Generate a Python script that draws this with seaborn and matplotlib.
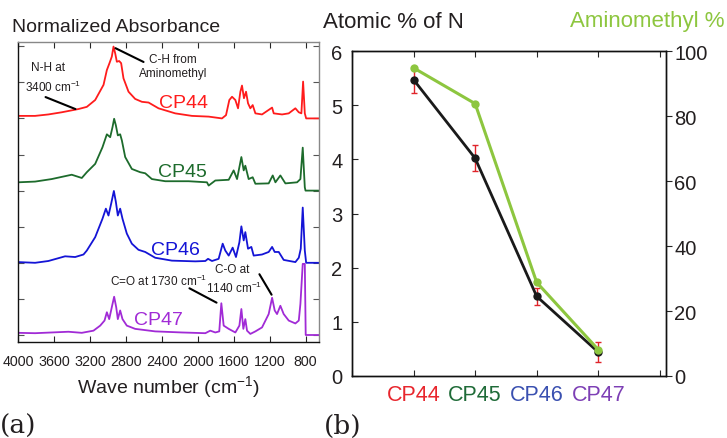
import numpy as np
import pandas as pd
import matplotlib
matplotlib.use("Agg")
import matplotlib.pyplot as plt
import seaborn as sns

# ---------------- data: FTIR spectra (relative absorbance) -------------
samples = ["CP44", "CP45", "CP46", "CP47"]

wn_cp44 = [4000, 3810, 3662, 3513, 3327, 3234, 3141, 3048, 3011, 2982, 2956, 2937, 2918, 2900,
           2874, 2852, 2826, 2770, 2696, 2621, 2547, 2436, 2250, 2064, 1878, 1730, 1685, 1648,
           1618, 1581, 1551, 1525, 1507, 1485, 1462, 1440, 1414, 1388, 1358, 1284, 1172, 1154,
           1061, 987, 913, 875, 846, 827, 808, 793, 650]
ab_cp44 = [0.07, 0.07, 0.11, 0.17, 0.26, 0.32, 0.51, 0.93, 1.34, 1.53, 1.71, 1.99, 1.80, 1.57,
           1.59, 1.53, 1.11, 0.74, 0.54, 0.46, 0.44, 0.28, 0.14, 0.07, 0.05, 0.00, 0.09, 0.51,
           0.60, 0.51, 0.28, 0.74, 0.91, 0.56, 0.74, 0.42, 0.28, 0.37, 0.14, 0.11, 0.30, 0.14,
           0.11, 0.14, 0.28, 0.17, 0.14, 1.02, 0.14, 0.00, 0.00]

wn_cp45 = [4000, 3810, 3625, 3402, 3290, 3234, 3141, 3060, 3011, 2974, 2948, 2930, 2911, 2889,
           2863, 2844, 2807, 2733, 2640, 2584, 2510, 2361, 2101, 1897, 1878, 1804, 1655, 1600,
           1562, 1514, 1488, 1470, 1433, 1388, 1358, 1210, 1165, 1135, 1080, 1024, 894, 857,
           831, 808, 800, 650]
ab_cp45 = [0.23, 0.25, 0.32, 0.44, 0.35, 0.51, 0.74, 1.20, 1.56, 1.48, 1.76, 1.99, 1.81, 1.53,
           1.56, 1.39, 0.93, 0.60, 0.51, 0.48, 0.32, 0.26, 0.26, 0.23, 0.14, 0.28, 0.30, 0.56,
           0.32, 0.93, 0.56, 0.69, 0.32, 0.37, 0.19, 0.20, 0.42, 0.23, 0.42, 0.20, 0.23, 0.32,
           1.19, 0.09, 0.00, 0.00]

wn_cp46 = [4000, 3810, 3662, 3476, 3364, 3271, 3234, 3141, 3060, 3022, 2993, 2963, 2933, 2911,
           2889, 2863, 2837, 2789, 2733, 2659, 2584, 2473, 2287, 2027, 1915, 1885, 1841, 1767,
           1722, 1693, 1655, 1611, 1574, 1536, 1514, 1488, 1470, 1440, 1403, 1377, 1284, 1210,
           1172, 1143, 1098, 1043, 913, 875, 853, 831, 808, 793, 650]
ab_cp46 = [0.02, 0.00, 0.05, 0.18, 0.16, 0.23, 0.34, 0.71, 1.22, 1.50, 1.31, 1.64, 1.99, 1.69,
           1.31, 1.50, 1.22, 0.81, 0.53, 0.36, 0.30, 0.14, 0.06, 0.04, 0.05, 0.11, 0.05, 0.11,
           0.53, 0.34, 0.20, 0.42, 0.16, 0.57, 1.01, 0.62, 0.85, 0.39, 0.44, 0.20, 0.23, 0.30,
           0.44, 0.30, 0.30, 0.08, 0.02, 0.14, 0.39, 1.53, 0.34, 0.00, 0.00]

wn_cp47 = [4000, 3810, 3625, 3439, 3290, 3160, 3085, 3037, 3011, 2985, 2956, 2930, 2907, 2889,
           2863, 2837, 2789, 2696, 2473, 2176, 1915, 1860, 1804, 1760, 1737, 1711, 1655, 1581,
           1536, 1514, 1492, 1470, 1451, 1414, 1358, 1284, 1210, 1172, 1143, 1117, 1080, 1043,
           987, 913, 875, 857, 831, 808, 798, 650]
ab_cp47 = [0.06, 0.05, 0.07, 0.09, 0.06, 0.12, 0.26, 0.40, 0.63, 0.44, 0.77, 1.06, 0.77, 0.44,
           0.68, 0.44, 0.26, 0.17, 0.10, 0.07, 0.05, 0.12, 0.07, 0.10, 0.88, 0.26, 0.17, 0.07,
           0.26, 0.72, 0.17, 0.44, 0.12, 0.03, 0.10, 0.21, 0.58, 1.03, 0.68, 0.58, 0.81, 0.58,
           0.40, 0.32, 0.40, 0.86, 1.97, 1.97, 0.00, 0.00]

offsets = [6, 4, 2, 0]
wn_ticks = [4000, 3600, 3200, 2800, 2400, 2000, 1600, 1200, 800]

# ---------------- data: composition panel ----------------
atomic_n = [5.47, 4.02, 1.47, 0.44]
atomic_n_err = [0.24, 0.24, 0.15, 0.19]
aminomethyl = [94.8, 83.8, 28.8, 8.1]
n_ticks = [0, 1, 2, 3, 4, 5, 6]
amino_ticks = [0, 20, 40, 60, 80, 100]

# ---------------- styling ----------------
spec_colors = {"CP44": "#ff1c1c", "CP45": "#1d6b2c", "CP46": "#1414d6", "CP47": "#a12bd6"}
label_colors = {"CP44": "#e8262d", "CP45": "#1f6b38", "CP46": "#3a50b0", "CP47": "#7d3fb5"}
txt = "#231f20"

sns.set_style("ticks")
plt.rcParams['font.family'] = ['Liberation Sans', 'DejaVu Sans']
plt.rcParams['mathtext.fontset'] = 'custom'
plt.rcParams['mathtext.rm'] = 'Liberation Sans'
plt.rcParams['mathtext.it'] = 'Liberation Sans:italic'
plt.rcParams['mathtext.bf'] = 'Liberation Sans:bold'

fig = plt.figure(figsize=(7.27, 4.39), dpi=100)
W, H = 727.0, 439.0

# ================= panel (a) =================
axL = fig.add_axes([18 / W, 1 - 343 / H, 301 / W, 300 / H])
rows = []
for name, wn, ab, off in zip(samples, [wn_cp44, wn_cp45, wn_cp46, wn_cp47],
                             [ab_cp44, ab_cp45, ab_cp46, ab_cp47], offsets):
    for w, a in zip(wn, ab):
        rows.append((name, w, a + off))
df = pd.DataFrame(rows, columns=["sample", "wn", "absorbance"])
sns.lineplot(data=df, x="wn", y="absorbance", hue="sample", palette=spec_colors,
             estimator=None, legend=False, lw=1.3, ax=axL)
axL.set_xlim(4000, 650)
axL.set_ylim(-0.194, 8.117)
axL.set_xticks(wn_ticks)
axL.set_xticklabels([str(t) for t in wn_ticks], fontsize=10.3, color=txt)
axL.set_yticks(range(0, 9))
axL.tick_params(direction='in', length=4, width=0.8, top=True, right=True,
                labelleft=False, pad=9)
axL.tick_params(axis='y', which='both', right=True, colors='#555555')
axL.set_xlabel("Wave number (cm$^{-1}$)", fontsize=14, color=txt, labelpad=3)
axL.set_ylabel("")
for s in ["left", "bottom"]:
    axL.spines[s].set_color("#111111")
    axL.spines[s].set_linewidth(1.0)
for s in ["top", "right"]:
    axL.spines[s].set_color("#888888")
    axL.spines[s].set_linewidth(1.0)

# sample names
cp_pos = {"CP44": (2163, 6.45), "CP45": (2175, 4.54), "CP46": (2253, 2.38), "CP47": (2442, 0.44)}
for name in samples:
    x, y = cp_pos[name]
    axL.text(x, y, name, color=spec_colors[name], fontsize=14, ha='center', va='center')

ann_fs = 8.5
axL.text(3666, 7.42, "N-H at", fontsize=ann_fs, ha='center', va='center', color=txt)
axL.text(3610, 6.90, "3400 cm$^{-1}$", fontsize=ann_fs, ha='center', va='center', color=txt)
axL.annotate("", xy=(3332, 6.23), xytext=(3722, 6.62),
             arrowprops=dict(arrowstyle='-', lw=1.5, color='black'))
axL.text(2275, 7.46, "C-H from\nAminomethyl", fontsize=ann_fs, ha='center', va='center',
         color=txt, linespacing=1.25)
axL.annotate("", xy=(2943, 7.98), xytext=(2575, 7.53),
             arrowprops=dict(arrowstyle='-', lw=1.5, color='black'))
axL.text(2431, 1.50, "C=O at 1730 cm$^{-1}$", fontsize=ann_fs, ha='center', va='center', color=txt)
axL.annotate("", xy=(1763, 0.86), xytext=(2119, 1.33),
             arrowprops=dict(arrowstyle='-', lw=1.5, color='black'))
axL.text(1618, 1.83, "C-O at", fontsize=ann_fs, ha='center', va='center', color=txt)
axL.text(1596, 1.33, "1140 cm$^{-1}$", fontsize=ann_fs, ha='center', va='center', color=txt)
axL.annotate("", xy=(1162, 1.05), xytext=(1329, 1.75),
             arrowprops=dict(arrowstyle='-', lw=1.5, color='black'))

fig.text(12 / W, 1 - 27 / H, "Normalized Absorbance", fontsize=14, color=txt,
         ha='left', va='center')

# ================= panel (b) =================
axR = fig.add_axes([352 / W, 1 - 377 / H, 314 / W, 325 / H])
dfR = pd.DataFrame({"pos": [1, 2, 3, 4], "sample": samples, "N": atomic_n,
                    "err": atomic_n_err, "amino": aminomethyl})
axR.errorbar(dfR["pos"], dfR["N"], yerr=dfR["err"], fmt='none', ecolor='#e0242a',
             elinewidth=1.0, capsize=2.5, capthick=1.0, zorder=1)
sns.lineplot(data=dfR, x="pos", y="N", color="#1a1a1a", lw=2.0, marker='o',
             markersize=6, markeredgewidth=0, ax=axR, zorder=2)
axR.set_xlim(0, 5.1)
axR.set_ylim(0, 6)
axR.set_xticks([0, 1, 2, 3, 4, 5])
axR.set_xticklabels([""] + samples + [""], fontsize=15.5)
for lab, name in zip(axR.get_xticklabels()[1:5], samples):
    lab.set_color(label_colors[name])
axR.set_yticks(n_ticks)
axR.set_yticklabels([str(t) for t in n_ticks], fontsize=14.5, color=txt)
axR.tick_params(axis='x', direction='in', length=4, width=0.8, top=True, pad=6)
axR.tick_params(axis='y', direction='in', length=4, width=0.8, right=False, pad=7)
axR.set_xlabel("")
axR.set_ylabel("")
for s in axR.spines.values():
    s.set_color("#111111")
    s.set_linewidth(1.0)

axR2 = axR.twinx()
sns.lineplot(data=dfR, x="pos", y="amino", color="#8dc63f", lw=2.2, marker='o',
             markersize=6, markeredgewidth=0, ax=axR2)
axR2.set_ylim(0, 100)
axR2.set_yticks(amino_ticks)
axR2.set_yticklabels([str(t) for t in amino_ticks], fontsize=14.5, color=txt)
axR2.tick_params(axis='y', direction='out', length=4, width=0.8, pad=2)
axR2.set_ylabel("")
for s in axR2.spines.values():
    s.set_color("#111111")
    s.set_linewidth(1.0)

fig.text(323 / W, 1 - 23 / H, "Atomic % of N", fontsize=16, color=txt, ha='left', va='center')
fig.text(725 / W, 1 - 22 / H, "Aminomethyl %", fontsize=16, color="#8dc63f",
         ha='right', va='center')

fig.text(0 / W, 1 - 426 / H, "(a)", fontsize=19, family=['DejaVu Serif'], color=txt,
         ha='left', va='center')
fig.text(324 / W, 1 - 426 / H, "(b)", fontsize=19, family=['DejaVu Serif'], color=txt,
         ha='left', va='center')

fig.savefig("out.png", dpi=100)
